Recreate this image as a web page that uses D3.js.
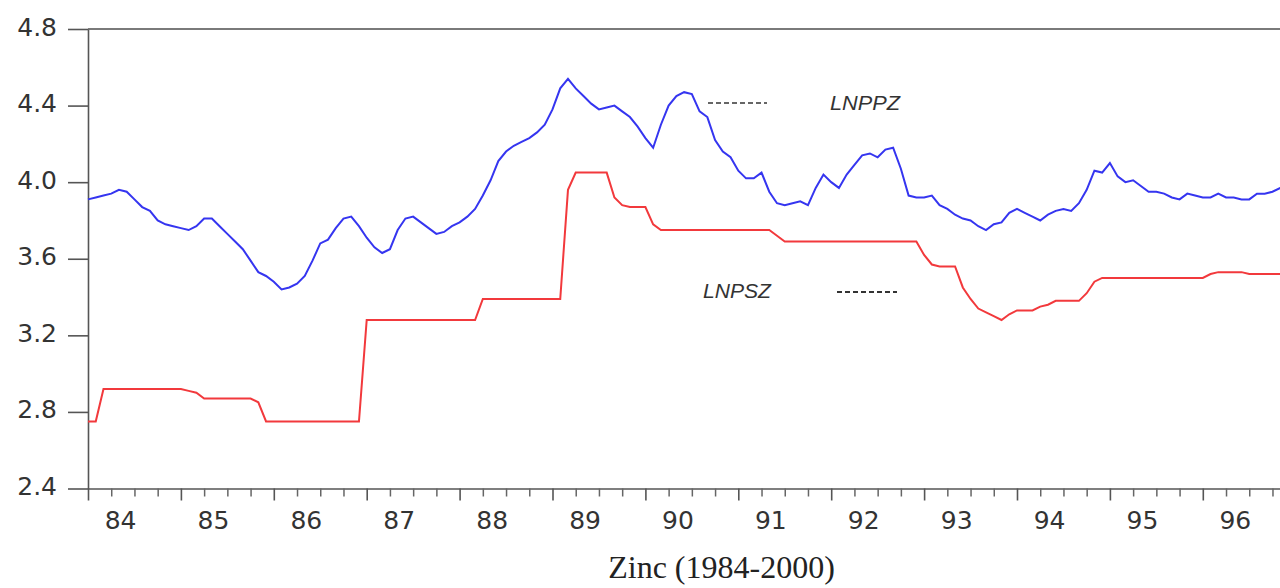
<!DOCTYPE html>
<html>
<head>
<meta charset="utf-8">
<script src="https://cdn.jsdelivr.net/npm/d3@7/dist/d3.min.js"></script>
<style>
  body { margin: 0; background: #fff; }
</style>
</head>
<body>
<svg></svg>
<script>
// monthly series, first observation 1984M01
const startYear = 1984
const lnppz = [
    3.91, 3.92, 3.93, 3.94, 3.96, 3.95, 3.91, 3.87, 3.85, 3.80,
    3.78, 3.77, 3.76, 3.75, 3.77, 3.81, 3.81, 3.77, 3.73, 3.69,
    3.65, 3.59, 3.53, 3.51, 3.48, 3.44, 3.45, 3.47, 3.51, 3.59,
    3.68, 3.70, 3.76, 3.81, 3.82, 3.77, 3.71, 3.66, 3.63, 3.65,
    3.75, 3.81, 3.82, 3.79, 3.76, 3.73, 3.74, 3.77, 3.79, 3.82,
    3.86, 3.93, 4.01, 4.11, 4.16, 4.19, 4.21, 4.23, 4.26, 4.30,
    4.38, 4.49, 4.54, 4.49, 4.45, 4.41, 4.38, 4.39, 4.40, 4.37,
    4.34, 4.29, 4.23, 4.18, 4.30, 4.40, 4.45, 4.47, 4.46, 4.37,
    4.34, 4.22, 4.16, 4.13, 4.06, 4.02, 4.02, 4.05, 3.95, 3.89,
    3.88, 3.89, 3.90, 3.88, 3.97, 4.04, 4.00, 3.97, 4.04, 4.09,
    4.14, 4.15, 4.13, 4.17, 4.18, 4.07, 3.93, 3.92, 3.92, 3.93,
    3.88, 3.86, 3.83, 3.81, 3.80, 3.77, 3.75, 3.78, 3.79, 3.84,
    3.86, 3.84, 3.82, 3.80, 3.83, 3.85, 3.86, 3.85, 3.89, 3.96,
    4.06, 4.05, 4.10, 4.03, 4.00, 4.01, 3.98, 3.95, 3.95, 3.94,
    3.92, 3.91, 3.94, 3.93, 3.92, 3.92, 3.94, 3.92, 3.92, 3.91,
    3.91, 3.94, 3.94, 3.95, 3.97, 3.98
]
const lnpsz = [
    2.75, 2.75, 2.92, 2.92, 2.92, 2.92, 2.92, 2.92, 2.92, 2.92,
    2.92, 2.92, 2.92, 2.91, 2.90, 2.87, 2.87, 2.87, 2.87, 2.87,
    2.87, 2.87, 2.85, 2.75, 2.75, 2.75, 2.75, 2.75, 2.75, 2.75,
    2.75, 2.75, 2.75, 2.75, 2.75, 2.75, 3.28, 3.28, 3.28, 3.28,
    3.28, 3.28, 3.28, 3.28, 3.28, 3.28, 3.28, 3.28, 3.28, 3.28,
    3.28, 3.39, 3.39, 3.39, 3.39, 3.39, 3.39, 3.39, 3.39, 3.39,
    3.39, 3.39, 3.96, 4.05, 4.05, 4.05, 4.05, 4.05, 3.92, 3.88,
    3.87, 3.87, 3.87, 3.78, 3.75, 3.75, 3.75, 3.75, 3.75, 3.75,
    3.75, 3.75, 3.75, 3.75, 3.75, 3.75, 3.75, 3.75, 3.75, 3.72,
    3.69, 3.69, 3.69, 3.69, 3.69, 3.69, 3.69, 3.69, 3.69, 3.69,
    3.69, 3.69, 3.69, 3.69, 3.69, 3.69, 3.69, 3.69, 3.62, 3.57,
    3.56, 3.56, 3.56, 3.45, 3.39, 3.34, 3.32, 3.30, 3.28, 3.31,
    3.33, 3.33, 3.33, 3.35, 3.36, 3.38, 3.38, 3.38, 3.38, 3.42,
    3.48, 3.50, 3.50, 3.50, 3.50, 3.50, 3.50, 3.50, 3.50, 3.50,
    3.50, 3.50, 3.50, 3.50, 3.50, 3.52, 3.53, 3.53, 3.53, 3.53,
    3.52, 3.52, 3.52, 3.52, 3.52, 3.52
]
const yTicks = [2.4, 2.8, 3.2, 3.6, 4.0, 4.4, 4.8]
const years = [1984, 1985, 1986, 1987, 1988, 1989, 1990, 1991, 1992, 1993, 1994, 1995, 1996]
const yearLabels = ["84", "85", "86", "87", "88", "89", "90", "91", "92", "93", "94", "95", "96"]
const legendNames = ["LNPPZ", "LNPSZ"]
const title = "Zinc (1984-2000)"

const svgWidth = 1280
const svgHeight = 588
const margins = { top: 29, left: 88 }
const yBottom = 488.5
const pxPerYear = 92.9

const svg = d3.select("svg")
    .attr("width", svgWidth)
    .attr("height", svgHeight)

const xScale = d3.scaleLinear()
    .domain([startYear, startYear + 13])
    .range([margins.left, margins.left + 13 * pxPerYear])
const yScale = d3.scaleLinear()
    .domain([2.4, 4.8])
    .range([yBottom, margins.top])

// top frame line
svg.append("line")
    .attr("x1", margins.left)
    .attr("x2", svgWidth)
    .attr("y1", margins.top)
    .attr("y2", margins.top)
    .attr("stroke", "#7a7a7a")
    .attr("stroke-width", 2)

// left axis
const yAxis = svg.append("g")
    .attr("transform", `translate(${margins.left},0)`)
    .call(d3.axisLeft(yScale).tickValues(yTicks).tickSize(20).tickSizeOuter(0)
        .tickPadding(11).tickFormat(d3.format(".1f")))
yAxis.select(".domain").attr("stroke", "#555").attr("stroke-width", 1.6)
yAxis.selectAll(".tick line").attr("stroke", "#555").attr("stroke-width", 1.6)
yAxis.selectAll(".tick text")
    .attr("font-family", "DejaVu Sans")
    .attr("font-size", 25)
    .attr("fill", "#333")
    .attr("dy", "0.24em")

// quarterly minor ticks
const quarters = []
years.forEach((yr) => {
    [0.25, 0.5, 0.75].forEach((q) => quarters.push(yr + q))
})
quarters.push(1997)
const minorAxis = svg.append("g")
    .attr("transform", `translate(0,${yBottom})`)
    .call(d3.axisBottom(xScale).tickValues(quarters).tickSize(8).tickSizeOuter(0).tickFormat(""))
minorAxis.select(".domain").attr("stroke", "#555").attr("stroke-width", 1.6)
minorAxis.selectAll(".tick line").attr("stroke", "#666").attr("stroke-width", 1.5)

// yearly major ticks with labels
const majorAxis = svg.append("g")
    .attr("transform", `translate(0,${yBottom})`)
    .call(d3.axisBottom(xScale).tickValues(years).tickSize(12).tickSizeOuter(0)
        .tickFormat((d, i) => yearLabels[i]))
majorAxis.select(".domain").remove()
majorAxis.selectAll(".tick line").attr("stroke", "#555").attr("stroke-width", 1.6)
majorAxis.selectAll(".tick text")
    .attr("x", xScale(startYear + 0.345) - xScale(startYear))
    .attr("y", 40)
    .attr("dy", 0)
    .attr("font-family", "DejaVu Sans")
    .attr("font-size", 25)
    .attr("fill", "#333")

// series lines
const line = d3.line()
    .x((d, i) => xScale(startYear + i / 12))
    .y((d) => yScale(d))

svg.append("path")
    .datum(lnpsz)
    .attr("d", line)
    .attr("fill", "none")
    .attr("stroke", "#f2393c")
    .attr("stroke-width", 2)

svg.append("path")
    .datum(lnppz)
    .attr("d", line)
    .attr("fill", "none")
    .attr("stroke", "#3535f0")
    .attr("stroke-width", 2)

// legend labels (as placed in the plot)
svg.append("line")
    .attr("x1", 708).attr("x2", 767)
    .attr("y1", 103).attr("y2", 103)
    .attr("stroke", "#666")
    .attr("stroke-width", 2)
    .attr("stroke-dasharray", "5,3")
svg.append("text")
    .text(legendNames[0])
    .attr("x", 830)
    .attr("y", 110)
    .attr("font-family", "Liberation Sans")
    .attr("font-style", "italic")
    .attr("font-size", 21)
    .attr("textLength", 70)
    .attr("lengthAdjust", "spacingAndGlyphs")
    .attr("fill", "#333")

svg.append("text")
    .text(legendNames[1])
    .attr("x", 703)
    .attr("y", 298)
    .attr("font-family", "Liberation Sans")
    .attr("font-style", "italic")
    .attr("font-size", 21)
    .attr("textLength", 68)
    .attr("lengthAdjust", "spacingAndGlyphs")
    .attr("fill", "#333")
svg.append("line")
    .attr("x1", 837).attr("x2", 897)
    .attr("y1", 292).attr("y2", 292)
    .attr("stroke", "#333")
    .attr("stroke-width", 2)
    .attr("stroke-dasharray", "5,3")

svg.append("text")
    .text(title)
    .attr("x", 721.5)
    .attr("y", 578)
    .attr("text-anchor", "middle")
    .attr("font-family", "Liberation Serif")
    .attr("font-size", 32)
    .attr("fill", "#222")
</script>
</body>
</html>
